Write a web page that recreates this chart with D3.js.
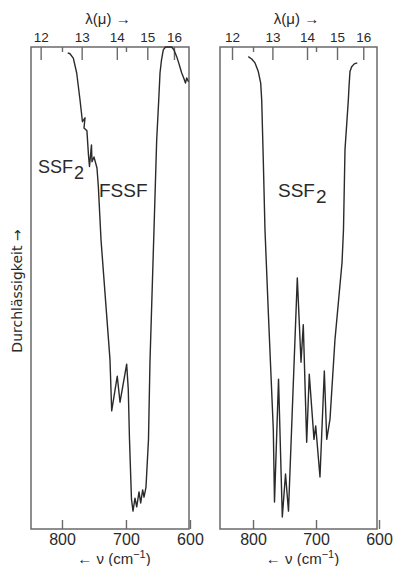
<!DOCTYPE html>
<html>
<head>
<meta charset="utf-8">
<script src="https://cdn.jsdelivr.net/npm/d3@7"></script>
<style>
  html, body { margin: 0; padding: 0; background: #fff; }
  svg { display: block; }
</style>
</head>
<body>
<div id="chart"></div>
<script>
// Wavelength ticks (μm) on top, wavenumber ticks (cm⁻¹) at the bottom.
const waveTicks = [12, 13, 14, 15, 16];
const nuMinorTicks = [800, 700];
const nuTicks = [800, 700, 600];

// [wavenumber cm⁻¹, transmission %] (SSF2 + FSSF).
const mixtureTrace = [
  [791, 98.8], [787.5, 98.6], [782.3, 97.7], [777, 94.6], [771.8, 89.0],
  [768, 84.5], [764, 85.3], [765.6, 83.2], [761, 82.6], [758.6, 77.6],
  [757, 75.2], [753.9, 79.7], [753.1, 76.2], [750, 77.2], [745.3, 74.9],
  [743.2, 71.1], [739, 60.0], [725, 35.2], [722.3, 24.5], [713.6, 31.7],
  [709.3, 26.3], [698.9, 34.2], [696.4, 29.0], [694.5, 18.6], [691.4, 6.2],
  [689, 3.7], [685.9, 6.4], [683.2, 4.6], [679.6, 7.7], [677, 5.4],
  [673.9, 8.1], [671.8, 6.6], [668.7, 8.7], [664.8, 18.6], [662.5, 34.6],
  [656.2, 62.1], [652, 80.7], [649, 88.5], [646.8, 94.6], [644.5, 97.3],
  [641.7, 99.4], [638.2, 100], [632.8, 100], [628.6, 100], [625, 99.4],
  [620.7, 98.0], [617.1, 96.5], [612.9, 94.6], [609.3, 93.4], [607, 92.5],
  [605.1, 93.6], [602.3, 92.8]
];

// [wavenumber cm⁻¹, transmission %] (pure SSF2).
const ssf2Trace = [
  [807.5, 98.0], [802.1, 97.5], [796.8, 96.7], [791.6, 94.9], [787.8, 92.5],
  [786.2, 89.0], [783.7, 76.6], [781, 62.1], [775.7, 44.9], [767.8, 20.7],
  [765.9, 5.6], [759.5, 31.1], [753.5, 2.5], [748.4, 11.4], [743.7, 3.7],
  [729.7, 52.1], [723.8, 34.6], [720.2, 42.4], [714.8, 18.0], [710.7, 32.1],
  [703.2, 18.6], [700.5, 21.4], [693.7, 10.8], [686.8, 32.8], [683, 18.6],
  [677.8, 22.8], [669.9, 39.3], [658.7, 55.3], [656.4, 62.1], [654, 78.7],
  [648.7, 89.0], [647.6, 91.8], [646.1, 94.9], [643.4, 95.9], [639.3, 96.5],
  [634.5, 96.7]
];

const width = 395;
const height = 566;
const plotTop = 47;
const plotBottom = 529;
const font = '"Liberation Sans", Arial, sans-serif';
const ink = '#2a2a2a';
const frameColor = '#6a6a6a';

const panels = [
  {
    id: 'mixture',
    x0: 31,
    x1: 189,
    nuDomain: [848.4, 601.5],
    trace: mixtureTrace,
    labels: [
      { text: 'SSF', sub: '2', x: 38, y: 173, size: 18 },
      { text: 'FSSF', x: 99, y: 197, size: 19 }
    ]
  },
  {
    id: 'ssf2',
    x0: 220,
    x1: 377,
    nuDomain: [852.4, 603.2],
    trace: ssf2Trace,
    labels: [{ text: 'SSF', sub: '2', x: 278, y: 197, size: 19 }]
  }
];

const svg = d3
  .select('#chart')
  .append('svg')
  .attr('width', width)
  .attr('height', height)
  .attr('viewBox', `0 0 ${width} ${height}`);

svg.append('rect').attr('width', width).attr('height', height).attr('fill', '#fff');

const y = d3.scaleLinear().domain([0, 100]).range([plotBottom, plotTop]);

const styleAxis = (g, size) => {
  g.select('.domain').remove();
  g.selectAll('line').attr('stroke', frameColor).attr('stroke-width', 1.4);
  g.selectAll('text')
    .attr('fill', ink)
    .attr('font-family', font)
    .attr('font-size', size);
};

panels.forEach((panel) => {
  const x = d3.scaleLinear().domain(panel.nuDomain).range([panel.x0, panel.x1]);
  const cx = (panel.x0 + panel.x1) / 2;

  /* Frame */
  svg
    .append('rect')
    .attr('x', panel.x0)
    .attr('y', plotTop)
    .attr('width', panel.x1 - panel.x0)
    .attr('height', plotBottom - plotTop)
    .attr('fill', 'none')
    .attr('stroke', frameColor)
    .attr('stroke-width', 1.5);

  /* Top wavelength axis (λ = 10⁴ / ν) */
  svg
    .append('g')
    .attr('transform', `translate(0,${plotTop})`)
    .call(
      d3
        .axisTop(x)
        .tickValues(waveTicks.map((l) => 1e4 / l))
        .tickFormat((d, i) => waveTicks[i])
        .tickSizeInner(-13)
        .tickSizeOuter(0)
        .tickPadding(5)
    )
    .call((g) => styleAxis(g, 13.5));

  svg
    .append('g')
    .attr('transform', `translate(0,${plotTop})`)
    .call(d3.axisTop(x).tickValues(nuMinorTicks).tickFormat('').tickSizeInner(-5).tickSizeOuter(0))
    .call((g) => styleAxis(g, 13));

  /* Bottom wavenumber axis */
  svg
    .append('g')
    .attr('transform', `translate(0,${plotBottom})`)
    .call(
      d3
        .axisBottom(x)
        .tickValues(nuTicks)
        .tickSizeInner(-9)
        .tickSizeOuter(0)
        .tickPadding(5)
    )
    .call((g) => styleAxis(g, 16));

  /* Axis titles */
  svg
    .append('text')
    .attr('x', cx - 2)
    .attr('y', 24)
    .attr('text-anchor', 'middle')
    .attr('fill', ink)
    .attr('font-family', font)
    .attr('font-size', 15)
    .text('λ(μ) →');

  const nuTitle = svg
    .append('text')
    .attr('x', cx + 4)
    .attr('y', 564)
    .attr('text-anchor', 'middle')
    .attr('fill', ink)
    .attr('font-family', font)
    .attr('font-size', 15);
  nuTitle.append('tspan').text('← ν (cm');
  nuTitle.append('tspan').attr('dy', -6).attr('font-size', 11).text('−1');
  nuTitle.append('tspan').attr('dy', 6).text(')');

  /* Spectrum: straight segments keep the absorption spikes sharp */
  const line = d3
    .line()
    .x((d) => x(d[0]))
    .y((d) => y(d[1]))
    .curve(d3.curveLinear);

  svg
    .append('path')
    .datum(panel.trace)
    .attr('fill', 'none')
    .attr('stroke', ink)
    .attr('stroke-width', 1.4)
    .attr('stroke-linejoin', 'round')
    .attr('d', line);

  /* Compound labels */
  panel.labels.forEach((lab) => {
    const t = svg
      .append('text')
      .attr('x', lab.x)
      .attr('y', lab.y)
      .attr('fill', ink)
      .attr('font-family', font)
      .attr('font-size', lab.size);
    t.append('tspan').text(lab.text);
    if (lab.sub) t.append('tspan').attr('dy', 6).attr('dx', 1).text(lab.sub);
  });
});

/* Shared y label */
svg
  .append('text')
  .attr('transform', `translate(22,${291}) rotate(-90)`)
  .attr('text-anchor', 'middle')
  .attr('fill', ink)
  .attr('font-family', '"DejaVu Sans", sans-serif')
  .attr('font-size', 14)
  .text('Durchlässigkeit →');
</script>
</body>
</html>
